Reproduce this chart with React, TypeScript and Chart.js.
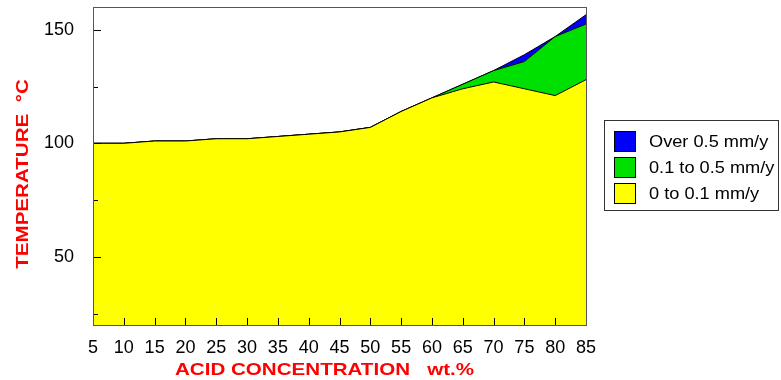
import React, { useEffect, useRef } from "react";
import { Chart, registerables } from "chart.js";

Chart.register(...registerables);

const concentrations = [5, 10, 15, 20, 25, 30, 35, 40, 45, 50, 55, 60, 65, 70, 75, 80, 85];
const lowRate = [100, 100, 101, 101, 102, 102, 103, 104, 105, 107, 114, 120, 124, 127, 124, 121, 128];
const midRate = [100, 100, 101, 101, 102, 102, 103, 104, 105, 107, 114, 120, 126, 132, 136, 147, 152.5];
const highRate = [100, 100, 101, 101, 102, 102, 103, 104, 105, 107, 114, 120, 126, 132, 139, 147, 156.6];
const seriesLabels = ["0 to 0.1 mm/y", "0.1 to 0.5 mm/y", "Over 0.5 mm/y"];
const seriesColors = ["#ffff00", "#00e000", "#0000ff"];
const yTickValues = [25, 50, 75, 100, 125, 150];
const yLabelValues = [50, 100, 150];
const xTitle = "ACID CONCENTRATION   wt.%";
const yTitle = "TEMPERATURE  \u00B0C";

const FONT = "'Liberation Sans', Arial, sans-serif";

const framePlugin = {
  id: "frameAndTicks",
  afterDatasetsDraw(chart: any) {
    const { ctx, chartArea } = chart;
    const { left, right, top, bottom } = chartArea;
    ctx.save();
    ctx.strokeStyle = "#000";
    ctx.lineWidth = 1;
    const xs = chart.scales.x;
    xs.ticks.forEach((t: any) => {
      const px = Math.round(xs.getPixelForValue(t.value)) + 0.5;
      ctx.beginPath();
      ctx.moveTo(px, bottom);
      ctx.lineTo(px, bottom - 7);
      ctx.stroke();
    });
    const ys = chart.scales.y;
    ys.ticks.forEach((t: any) => {
      const py = Math.round(ys.getPixelForValue(t.value)) + 0.5;
      const len = yLabelValues.includes(t.value) ? 8 : 5;
      ctx.beginPath();
      ctx.moveTo(left, py);
      ctx.lineTo(left + len, py);
      ctx.stroke();
    });
    ctx.strokeStyle = "#555";
    ctx.strokeRect(Math.round(left) + 0.5, Math.round(top) + 0.5, Math.round(right - left), Math.round(bottom - top));
    ctx.restore();
  },
  afterDraw(chart: any) {
    const { ctx, chartArea } = chart;
    const { left, right, top, bottom } = chartArea;
    ctx.save();
    // axis titles (stretched horizontally like the original)
    ctx.fillStyle = "#ff0000";
    ctx.font = `bold 17px ${FONT}`;
    ctx.textAlign = "center";
    ctx.textBaseline = "alphabetic";
    const sx = 1.21;
    ctx.save();
    ctx.translate((left + right) / 2 - 15, chart.height - 5);
    ctx.scale(sx, 1);
    ctx.fillText(xTitle, 0, 0);
    ctx.restore();
    ctx.save();
    ctx.translate(27.5, (top + bottom) / 2 + 8);
    ctx.rotate(-Math.PI / 2);
    ctx.scale(sx, 1);
    ctx.fillText(yTitle, 0, 0);
    ctx.restore();

    // legend
    const ds = chart.data.datasets.slice().reverse();
    const boxL = right + 18.5;
    const boxW = 174;
    const boxH = 90;
    const cy = (top + bottom) / 2;
    const boxT = Math.round(cy - 46) + 0.5;
    ctx.strokeStyle = "#333";
    ctx.lineWidth = 1;
    ctx.strokeRect(boxL, boxT, boxW, boxH);
    ctx.font = `17px ${FONT}`;
    ctx.textAlign = "left";
    ctx.textBaseline = "middle";
    ds.forEach((d: any, i: number) => {
      const sqT = boxT + 11 + i * 26;
      ctx.fillStyle = d.backgroundColor;
      ctx.fillRect(boxL + 10, sqT, 21, 20);
      ctx.strokeStyle = "#000";
      ctx.strokeRect(boxL + 10, sqT, 21, 20);
      ctx.fillStyle = "#000";
      ctx.save();
      ctx.translate(boxL + 44.5, sqT + 11);
      ctx.scale(1.07, 1);
      ctx.fillText(d.label, 0, 0);
      ctx.restore();
    });
    ctx.restore();
  },
};

export default function App() {
  const ref = useRef<HTMLCanvasElement | null>(null);
  useEffect(() => {
    if (!ref.current) return;
    const mk = (arr: number[]) => concentrations.map((x, i) => ({ x, y: arr[i] }));
    const chart = new Chart(ref.current, {
      type: "line",
      data: {
        datasets: [
          {
            label: seriesLabels[0],
            data: mk(lowRate),
            backgroundColor: seriesColors[0],
            borderColor: "#000",
            borderWidth: 1,
            fill: "start",
            pointRadius: 0,
            tension: 0,
          },
          {
            label: seriesLabels[1],
            data: mk(midRate),
            backgroundColor: seriesColors[1],
            borderColor: "#000",
            borderWidth: 1,
            fill: "-1",
            pointRadius: 0,
            tension: 0,
          },
          {
            label: seriesLabels[2],
            data: mk(highRate),
            backgroundColor: seriesColors[2],
            borderColor: "#000",
            borderWidth: 1,
            fill: "-1",
            pointRadius: 0,
            tension: 0,
          },
        ],
      },
      options: {
        responsive: false,
        animation: false,
        devicePixelRatio: 1,
        layout: { padding: { left: 0, top: 7, right: 195, bottom: 0 } },
        plugins: { legend: { display: false }, tooltip: { enabled: false } },
        scales: {
          x: {
            type: "linear",
            min: 5,
            max: 85,
            grid: { display: false },
            border: { display: false },
            ticks: {
              stepSize: 5,
              autoSkip: false,
              maxRotation: 0,
              padding: 4,
              color: "#000",
              font: { family: FONT, size: 18 },
            },
            afterFit: (s: any) => {
              s.height = 55;
              s.paddingLeft = 0;
              s.paddingRight = 0;
            },
          },
          y: {
            min: 20,
            max: 160,
            grid: { display: false },
            border: { display: false },
            afterBuildTicks: (s: any) => {
              s.ticks = yTickValues.map((v) => ({ value: v }));
            },
            ticks: {
              padding: 11,
              color: "#000",
              font: { family: FONT, size: 18 },
              callback: (v: any) => (yLabelValues.includes(Number(v)) ? String(v) : ""),
            },
            afterFit: (s: any) => {
              s.width = 93;
              s.paddingTop = 0;
              s.paddingBottom = 0;
            },
          },
        },
      },
      plugins: [framePlugin],
    });
    return () => chart.destroy();
  }, []);
  return (
    <div style={{ position: "fixed", left: 0, top: 0, width: 781, height: 380, background: "#fff" }}>
      <canvas ref={ref} width={781} height={380} style={{ display: "block" }} />
    </div>
  );
}
